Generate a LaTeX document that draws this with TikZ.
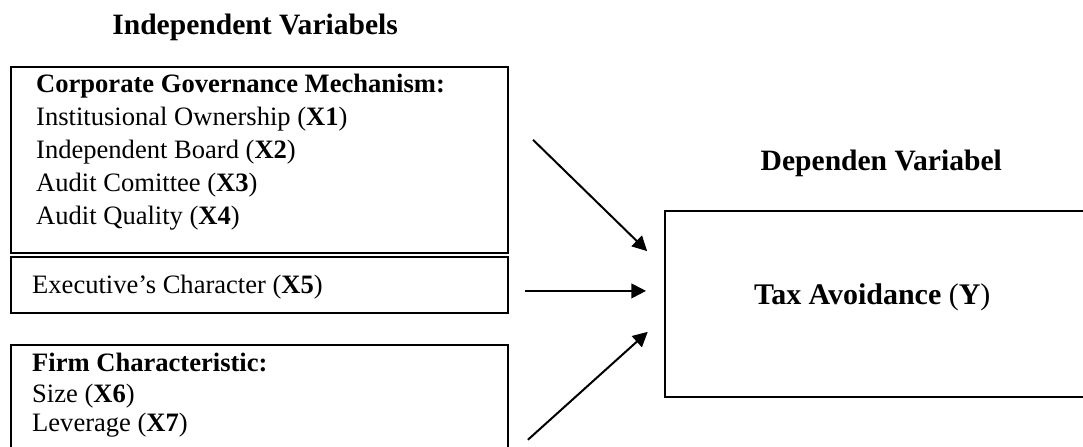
\documentclass[tikz,border=0pt]{standalone}
\usepackage{fontspec}
\setmainfont{Liberation Serif}
\usepackage{tikz}
\usetikzlibrary{arrows.meta, positioning}

\begin{document}
\begin{tikzpicture}[
  varbox/.style={draw, line width=0.9pt, anchor=north west, inner sep=0pt, outer sep=0pt},
  heading/.style={font=\fontsize{14.8}{17}\selectfont\bfseries},
  entry/.style={anchor=base west, inner sep=0pt, font=\fontsize{13.3}{16}\selectfont},
  arrow/.style={-{Triangle[length=2.6mm, width=2.6mm]}, line width=1pt}
]
  \useasboundingbox (0,0) rectangle (19.06,-7.85);
  \clip (0,0) rectangle (19.06,-7.85);

  \node[heading] (iv) at (4.49,-0.49) {Independent Variabels};
  \node[heading] (dv) at (15.51,-2.87) {Dependen Variabel};

  \node[varbox, minimum width=8.75cm, minimum height=3.27cm] (cgm) at (0.19,-1.18) {};
  \node[varbox, minimum width=8.75cm, minimum height=0.99cm] (exe) at (0.19,-4.52) {};
  \node[varbox, minimum width=8.75cm, minimum height=2.10cm] (fc) at (0.19,-6.07) {};
  \node[varbox, minimum width=7.70cm, minimum height=3.28cm] (ta) at (11.70,-3.71) {};

  \node[entry, font=\fontsize{13.3}{16}\selectfont\bfseries] (cgm0) at (0.63,-1.63) {Corporate Governance Mechanism:};
  \node[entry] (cgm1) at (0.63,-2.21) {Institusional Ownership (\textbf{X1})};
  \node[entry] (cgm2) at (0.63,-2.79) {Independent Board (\textbf{X2})};
  \node[entry] (cgm3) at (0.63,-3.37) {Audit Comittee (\textbf{X3})};
  \node[entry] (cgm4) at (0.63,-3.95) {Audit Quality (\textbf{X4})};

  \node[entry] (exe1) at (0.56,-5.17) {Executive’s Character (\textbf{X5})};

  \node[entry, font=\fontsize{13.3}{16}\selectfont\bfseries] (fc0) at (0.56,-6.53) {Firm Characteristic:};
  \node[entry] (fc1) at (0.56,-7.08) {Size (\textbf{X6})};
  \node[entry] (fc2) at (0.56,-7.60) {Leverage (\textbf{X7})};

  \node[heading, font=\fontsize{15}{18}\selectfont\bfseries] (tay) at (15.35,-5.23) {Tax Avoidance {\mdseries(}Y{\mdseries)}};

  \coordinate (a1s) at (9.38,-2.46);
  \coordinate (a1e) at (11.39,-4.42);
  \coordinate (a2s) at (9.24,-5.12);
  \coordinate (a2e) at (11.37,-5.12);
  \coordinate (a3s) at (9.29,-7.74);
  \coordinate (a3e) at (11.40,-5.84);

  \draw[arrow] (a1s) -- (a1e);
  \draw[arrow] (a2s) -- (a2e);
  \draw[arrow] (a3s) -- (a3e);
\end{tikzpicture}
\end{document}
